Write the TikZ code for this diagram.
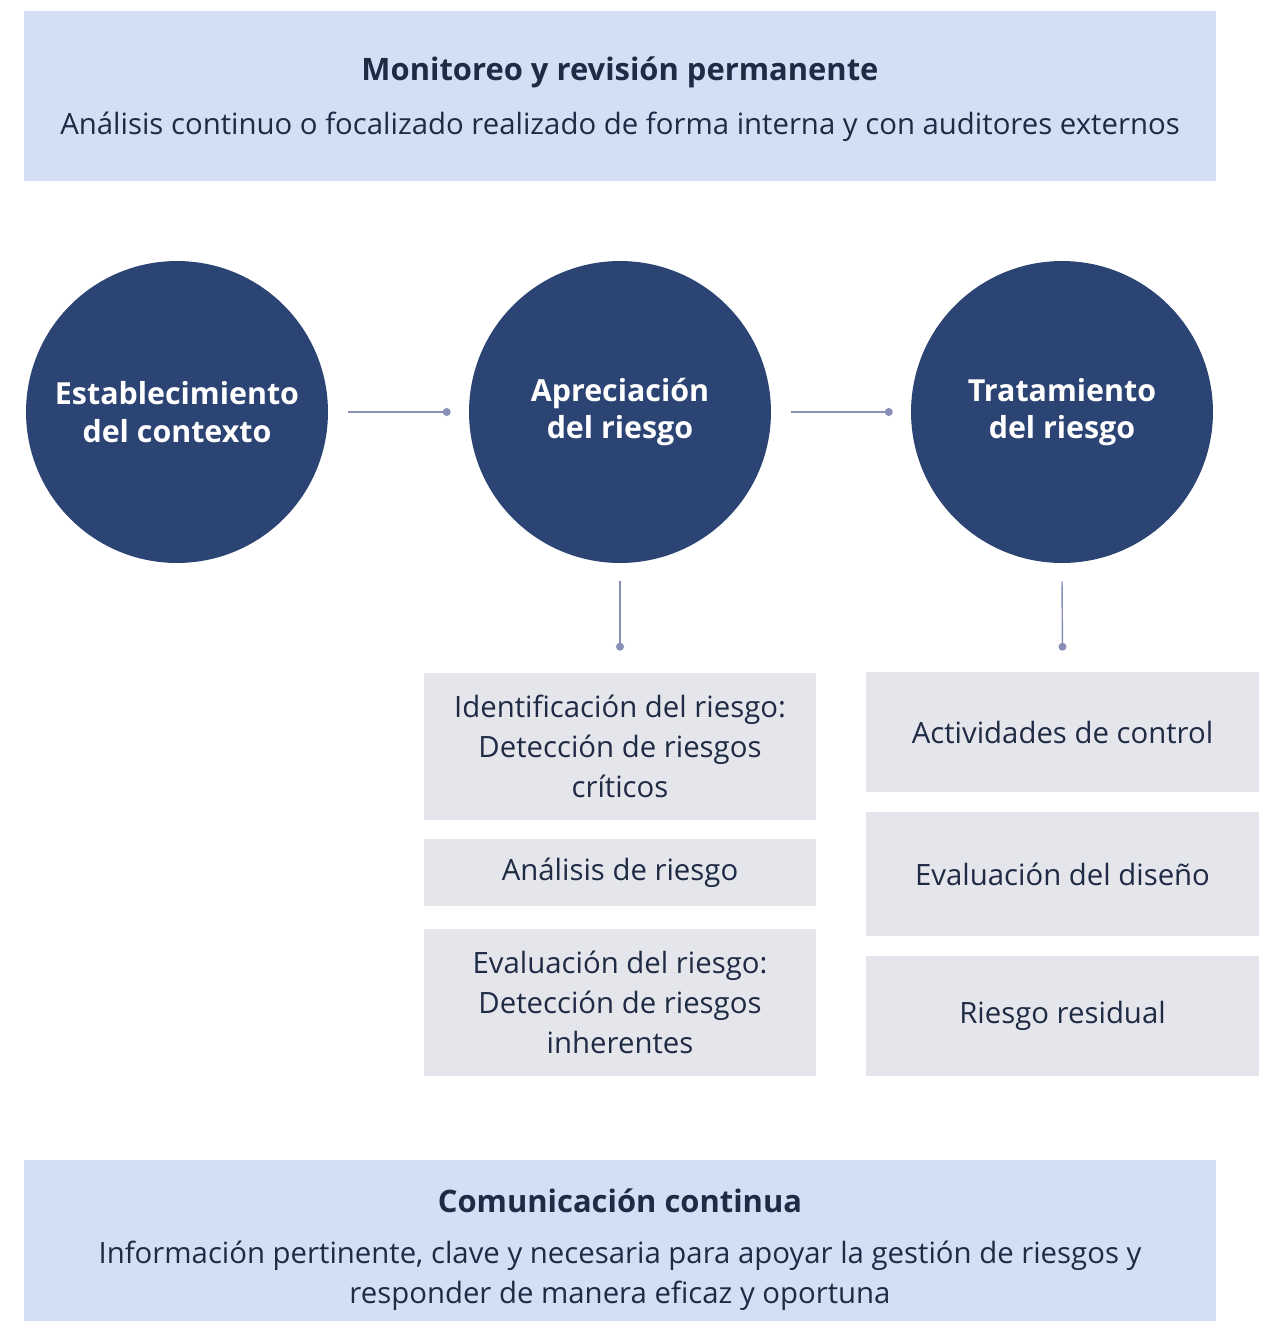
\documentclass[tikz,border=0pt]{standalone}
\usepackage{fontspec}
\setmainfont{Open Sans}
\usepackage{xcolor}
\definecolor{vizBand}{HTML}{D3DFF4}
\definecolor{vizCircle}{HTML}{2C4473}
\definecolor{vizStep}{HTML}{E5E6EC}
\definecolor{vizText}{HTML}{1F2A44}
\definecolor{vizLine}{HTML}{8A8FB8}
\usetikzlibrary{arrows.meta}

\tikzset{
  band/.style={fill=vizBand, draw=none, minimum width=23.84cm, inner sep=0pt},
  stage/.style={circle, fill=vizCircle, draw=none, minimum size=6.04cm, inner sep=0pt,
    text=white, align=center, font=\fontsize{17.3}{21.5}\selectfont\bfseries},
  stepbox/.style={fill=vizStep, draw=none, minimum width=7.86cm, inner sep=0pt,
    text=vizText, align=center, font=\fontsize{16.7}{22.6}\selectfont},
  link/.style={vizLine, line width=0.8pt, -{Circle[length=4.5pt]}},
  bandtitle/.style={text=vizText, font=\fontsize{17.6}{22.6}\selectfont\bfseries},
  bandtext/.style={text=vizText, align=center, font=\fontsize{16.7}{22.6}\selectfont}
}

\begin{document}
\begin{tikzpicture}[x=0.02cm, y=-0.02cm]
  \useasboundingbox (0,0) rectangle (1265,1322);
  % top band
  \node[band, minimum height=3.4cm] (monitor) at (620,96) {};
  \node[bandtitle] (monitorTitle) at (620,72) {Monitoreo y revisión permanente};
  \node[bandtext] (monitorText) at (620,127) {Análisis continuo o focalizado realizado de forma interna y con auditores externos};
  % stages
  \node[stage] (context) at (177,412) {Establecimiento\\del contexto};
  \node[stage] (appraisal) at (620,412) {Apreciación\\del riesgo};
  \node[stage] (treatment) at (1062,412) {Tratamiento\\del riesgo};
  % appraisal steps
  \node[stepbox, minimum height=2.94cm] (ident) at (620,746.5) {Identificación del riesgo:\\Detección de riesgos\\críticos};
  \node[stepbox, minimum height=1.34cm] (analysis) at (620,872.5) {Análisis de riesgo};
  \node[stepbox, minimum height=2.94cm] (evaluation) at (620,1002.5) {Evaluación del riesgo:\\Detección de riesgos\\inherentes};
  % treatment steps
  \node[stepbox, minimum height=2.4cm] (control) at (1062.5,732) {Actividades de control};
  \node[stepbox, minimum height=2.48cm] (design) at (1062.5,874) {Evaluación del diseño};
  \node[stepbox, minimum height=2.4cm] (residual) at (1062.5,1016) {Riesgo residual};
  % connectors
  \draw[link] ([xshift=0.4cm]context.east) -- ([xshift=-0.36cm]appraisal.west);
  \draw[link] ([xshift=0.4cm]appraisal.east) -- ([xshift=-0.36cm]treatment.west);
  \draw[link] ([yshift=-0.36cm]appraisal.south) -- ([yshift=0.44cm]ident.north);
  \draw[link] ([yshift=-0.36cm]treatment.south) -- ([yshift=0.42cm]control.north);
  % bottom band
  \node[band, minimum height=3.22cm] (comm) at (620,1240.5) {};
  \node[bandtitle] (commTitle) at (620,1201) {Comunicación continua};
  \node[bandtext] (commText) at (620,1276) {Información pertinente, clave y necesaria para apoyar la gestión de riesgos y\\responder de manera eficaz y oportuna};
\end{tikzpicture}
\end{document}
